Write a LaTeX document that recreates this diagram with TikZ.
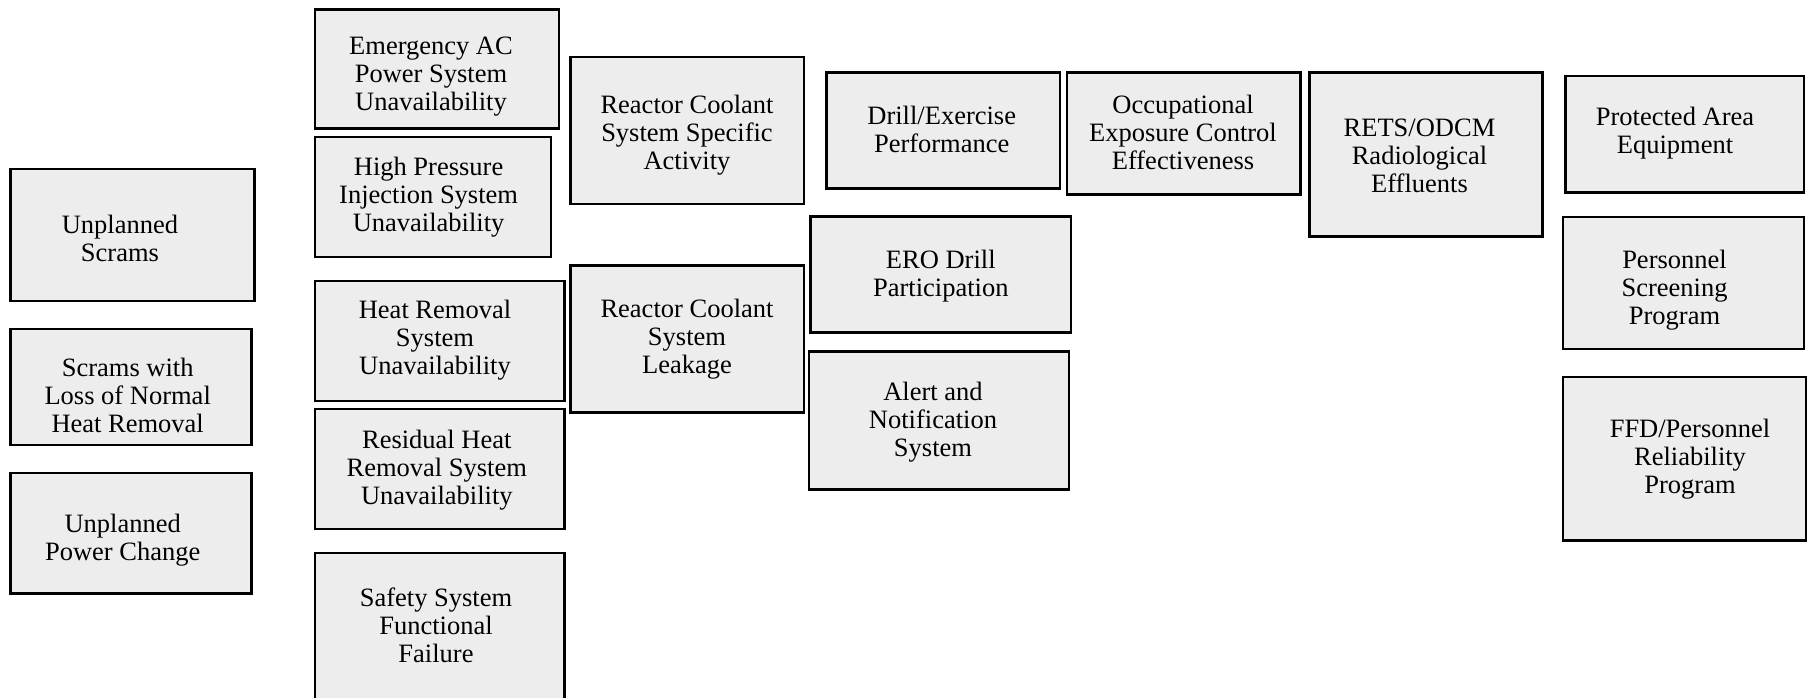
\documentclass[tikz,border=0pt]{standalone}
\usepackage{fontspec}
\setmainfont{Liberation Serif}
\usetikzlibrary{fit}
\definecolor{boxfill}{RGB}{237,237,237}
\tikzset{
  box/.style={draw=black, line width=2.7pt, fill=boxfill, rectangle, inner sep=0pt},
  lbl/.style={align=center, inner sep=0pt, anchor=base, font=\fontsize{26.5}{28}\selectfont}
}
\begin{document}
\begin{tikzpicture}[x=1pt,y=-1pt]
\useasboundingbox (0,0) rectangle (1808,698);
\clip (0,0) rectangle (1808,698);
% column 1
\node[box, fit={(10.7,169) (254.5,301)}] (us) {};
\node[lbl] (us-t) at (120,261.3) {Unplanned\\Scrams};
\node[box, fit={(10.7,329) (251.4,445)}] (sl) {};
\node[lbl] (sl-t) at (127.7,432) {Scrams with\\Loss of Normal\\Heat Removal};
\node[box, fit={(10.7,473) (251.4,593.7)}] (upc) {};
\node[lbl] (upc-t) at (122.7,560.3) {Unplanned\\Power Change};
% column 2
\node[box, fit={(315,9.3) (559,128.3)}] (eac) {};
\node[lbl] (eac-t) at (431,110.3) {Emergency AC\\Power System\\Unavailability};
\node[box, fit={(315,137) (551,257)}] (hp) {};
\node[lbl] (hp-t) at (428.6,231) {High Pressure\\Injection System\\Unavailability};
\node[box, fit={(315,281) (564.5,401)}] (hr) {};
\node[lbl] (hr-t) at (435,374.3) {Heat Removal\\System\\Unavailability};
\node[box, fit={(315,409) (564.5,529)}] (rhr) {};
\node[lbl] (rhr-t) at (436.8,504.3) {Residual Heat\\Removal System\\Unavailability};
\node[box, fit={(315,553) (564.5,720)}] (ssf) {};
\node[lbl] (ssf-t) at (436,662) {Safety System\\Functional\\Failure};
% column 3
\node[box, fit={(570.7,57) (804,204)}] (rcsa) {};
\node[lbl] (rcsa-t) at (687,169.3) {Reactor Coolant\\System Specific\\Activity};
\node[box, fit={(570.7,265.3) (804,412.7)}] (rcsl) {};
\node[lbl] (rcsl-t) at (687,373.7) {Reactor Coolant\\System\\Leakage};
% column 4
\node[box, fit={(826.7,72.7) (1060,188.7)}] (dep) {};
\node[lbl] (dep-t) at (941.7,153) {Drill/Exercise\\Performance};
\node[box, fit={(810.7,216.7) (1071,332.7)}] (ero) {};
\node[lbl] (ero-t) at (940.8,296.7) {ERO Drill\\Participation};
\node[box, fit={(809,351.7) (1069,489.3)}] (ans) {};
\node[lbl] (ans-t) at (933,456.7) {Alert and\\Notification\\System};
% column 5
\node[box, fit={(1067,72.7) (1300.8,194.3)}] (oec) {};
\node[lbl] (oec-t) at (1183,169.3) {Occupational\\Exposure Control\\Effectiveness};
% column 6
\node[box, fit={(1309.7,72.7) (1542.8,236.7)}] (rets) {};
\node[lbl] (rets-t) at (1419.5,192.7) {RETS/ODCM\\Radiological\\Effluents};
% column 7
\node[box, fit={(1565.3,76) (1804,192.3)}] (pae) {};
\node[lbl] (pae-t) at (1675,153.7) {Protected Area\\Equipment};
\node[box, fit={(1563,217) (1804,349)}] (psp) {};
\node[lbl] (psp-t) at (1674.5,324.7) {Personnel\\Screening\\Program};
\node[box, fit={(1563,377) (1806,540.7)}] (ffd) {};
\node[lbl] (ffd-t) at (1690,493.7) {FFD/Personnel\\Reliability\\Program};
\end{tikzpicture}
\end{document}
